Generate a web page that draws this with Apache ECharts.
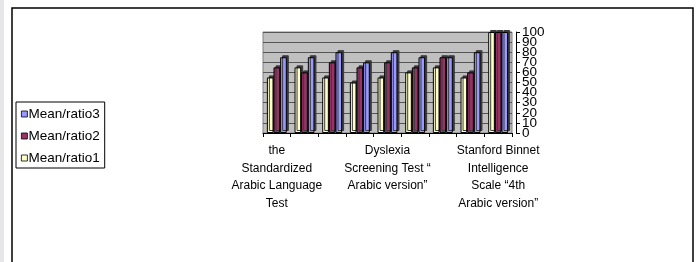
<!DOCTYPE html>
<html>
<head>
	<meta charset="utf-8">
	<title>mean ratio bars</title>
	<script src="https://cdn.jsdelivr.net/npm/echarts@6/dist/echarts.min.js"></script>
	<style>
		html, body { margin: 0; padding: 0; background: #fff; }
		#chart { width: 699px; height: 262px; }
	</style>
</head>
<body>
	<div id="chart"></div>
	<script>
		// only every fourth category carries a label in the picture
		var categories = [
			'the\nStandardized\nArabic Language\nTest', '', '', '',
			'Dyslexia\nScreening Test \u201c\nArabic version\u201d', '', '', '',
			'Stanford Binnet\nIntelligence\nScale \u201c4th\nArabic version\u201d'
		];
		var ratio1 = [55, 65, 55, 50, 55, 60, 65, 55, 100];
		var ratio2 = [65, 60, 70, 65, 70, 65, 75, 60, 100];
		var ratio3 = [75, 75, 80, 70, 80, 75, 75, 80, 100];
		var yTicks = [0, 10, 20, 30, 40, 50, 60, 70, 80, 90, 100];

		var chart = echarts.init(document.getElementById('chart'));

		function bar(name, data, color) {
			return {
				name: name,
				type: 'bar',
				data: data,
				barGap: '0%',
				barCategoryGap: '28%',
				itemStyle: {
					color: color,
					borderColor: '#000',
					borderWidth: 1,
					shadowColor: '#3a3a3a',
					shadowBlur: 0,
					shadowOffsetX: 2,
					shadowOffsetY: -2
				}
			};
		}

		// labels sit 10px apart and touch each other, so they are split over
		// two copies of the same axis to keep echarts from hiding any of them
		function valueAxis(labels, main) {
			return {
				type: 'value',
				position: 'right',
				offset: 4,
				min: yTicks[0],
				max: yTicks[yTicks.length - 1],
				interval: 10,
				axisLine: { show: main, lineStyle: { color: '#000' } },
				axisTick: { show: main, length: 4, lineStyle: { color: '#000' } },
				axisLabel: {
					color: '#000',
					fontSize: 13.5,
					margin: 6,
					customValues: labels
				},
				splitLine: { show: main, lineStyle: { color: '#555', width: 1 } }
			};
		}

		var option = {
			animation: false,
			textStyle: { fontFamily: 'Liberation Sans, Arial, sans-serif' },
			graphic: [
				{ type: 'rect', shape: { x: 0, y: 0, width: 4, height: 262 }, style: { fill: '#e6e6e8' } },
				{ type: 'rect', shape: { x: 12, y: 8, width: 681, height: 270 }, style: { fill: 'none', stroke: '#000', lineWidth: 1.5 } }
			],
			legend: {
				orient: 'vertical',
				left: 16,
				top: 102,
				data: ['Mean/ratio3', 'Mean/ratio2', 'Mean/ratio1'],
				icon: 'rect',
				itemWidth: 6,
				itemHeight: 6,
				itemGap: 8,
				padding: [5, 5, 3, 5],
				borderColor: '#000',
				borderWidth: 1,
				backgroundColor: '#fff',
				itemStyle: { borderColor: '#000', borderWidth: 0.8 },
				textStyle: { fontSize: 13.5, lineHeight: 14, color: '#000', padding: [0, 0, 0, -4] }
			},
			grid: {
				left: 263,
				right: 187,
				top: 32,
				bottom: 129,
				show: true,
				backgroundColor: '#c0c0c0',
				borderColor: '#808080',
				borderWidth: 1
			},
			xAxis: {
				type: 'category',
				data: categories,
				axisLine: { lineStyle: { color: '#000' } },
				axisTick: { show: true, length: 4, lineStyle: { color: '#000' } },
				axisLabel: {
					interval: 0,
					color: '#000',
					fontSize: 12,
					lineHeight: 17.5,
					margin: 9
				}
			},
			yAxis: [
				valueAxis(yTicks.filter(function (v, i) { return i % 2 === 0; }), true),
				valueAxis(yTicks.filter(function (v, i) { return i % 2 === 1; }), false)
			],
			series: [
				bar('Mean/ratio1', ratio1, '#ffffcc'),
				bar('Mean/ratio2', ratio2, '#993366'),
				bar('Mean/ratio3', ratio3, '#9999ff')
			]
		};
		chart.setOption(option);
	</script>
</body>
</html>
